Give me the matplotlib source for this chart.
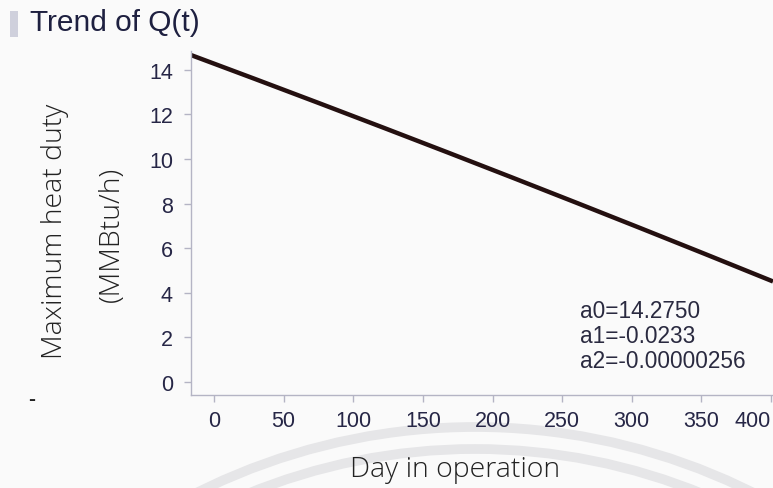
import numpy as np
import matplotlib
matplotlib.use("Agg")
import matplotlib.pyplot as plt
from matplotlib.patches import Arc, Rectangle

# Fitted quadratic trend Q(t) = a0 + a1*t + a2*t^2
coef_names = ["a0", "a1", "a2"]
coef_values = [14.2750, -0.0233, -0.00000256]
coef_labels = ["14.2750", "-0.0233", "-0.00000256"]

x_ticks = [0, 50, 100, 150, 200, 250, 300, 350, 400]
y_ticks = [0, 2, 4, 6, 8, 10, 12, 14]
x_range = (-16.5, 401.4)
y_range = (-0.58, 14.84)

W, H = 773, 489
bg = "#fafafa"
tick_color = "#262646"
axis_grey = "#b4b4c4"
label_font = "Open Sans"
num_font = "Liberation Sans"

fig = plt.figure(figsize=(W / 100, H / 100), dpi=100, facecolor=bg)

# faint watermark rings behind the axes
wm = fig.add_axes([0, 0, 1, 1], zorder=0)
wm.set_xlim(0, W)
wm.set_ylim(H, 0)
wm.axis("off")
for r in (622, 600):
    wm.add_patch(Arc((475, 1050), 2 * r, 2 * r, theta1=180, theta2=360,
                     color="#e6e6e8", lw=7))
# small header marker
wm.add_patch(Rectangle((10, 12), 8, 26, color="#cfd0dc", lw=0))

ax = fig.add_axes([191 / W, (H - 396) / H, (W - 191) / W, (396 - 52) / H], zorder=2)
ax.patch.set_alpha(0)

t = np.linspace(x_range[0], x_range[1], 300)
q = np.polyval(coef_values[::-1], t)
ax.plot(t, q, color="#241010", lw=3.2, solid_capstyle="butt")

ax.set_xlim(*x_range)
ax.set_ylim(*y_range)
for side in ("top", "right"):
    ax.spines[side].set_visible(False)
for side in ("left", "bottom"):
    ax.spines[side].set_color(axis_grey)
    ax.spines[side].set_linewidth(1.0)

ax.set_xticks(x_ticks)
ax.set_yticks(y_ticks)
ax.set_xticklabels([str(v) for v in x_ticks], fontfamily=num_font, fontsize=15.5,
                   color=tick_color)
ax.set_yticklabels([str(v) for v in y_ticks], fontfamily=num_font, fontsize=15.5,
                   color=tick_color)
ax.get_xticklabels()[-1].set_horizontalalignment("right")
ax.tick_params(axis="both", direction="out", length=5, width=1.0, color=axis_grey)
ax.tick_params(axis="x", pad=6)
ax.tick_params(axis="y", pad=8)

# coefficient readout
for i, (n, s) in enumerate(zip(coef_names, coef_labels)):
    fig.text(580 / W, 1 - (312 + 25 * i) / H, f"{n}={s}", fontfamily=num_font,
             fontsize=16.3, color="#2a2a40", va="center", ha="left")

fig.text(30 / W, 1 - 23 / H, "Trend of Q(t)", fontfamily=num_font, fontsize=21.5,
         color="#1e2040", va="center", ha="left")

fig.text(55 / W, 1 - 231 / H, "Maximum heat duty", fontfamily=label_font,
         fontweight="light", fontsize=20.5, color="#222222", rotation=90,
         va="center", ha="center")
fig.text(112 / W, 1 - 234 / H, "(MMBtu/h)", fontfamily=label_font,
         fontweight="light", fontsize=20.5, color="#222222", rotation=90,
         va="center", ha="center")
fig.text(32 / W, 1 - 400 / H, "-", fontfamily=num_font, fontsize=15,
         fontweight="bold", color="#222222", va="center", ha="center")
fig.text(455 / W, 1 - 470 / H, "Day in operation", fontfamily=label_font,
         fontweight="light", fontsize=20.5, color="#222222", va="center", ha="center")

fig.savefig("out.png", dpi=100, facecolor=bg)
